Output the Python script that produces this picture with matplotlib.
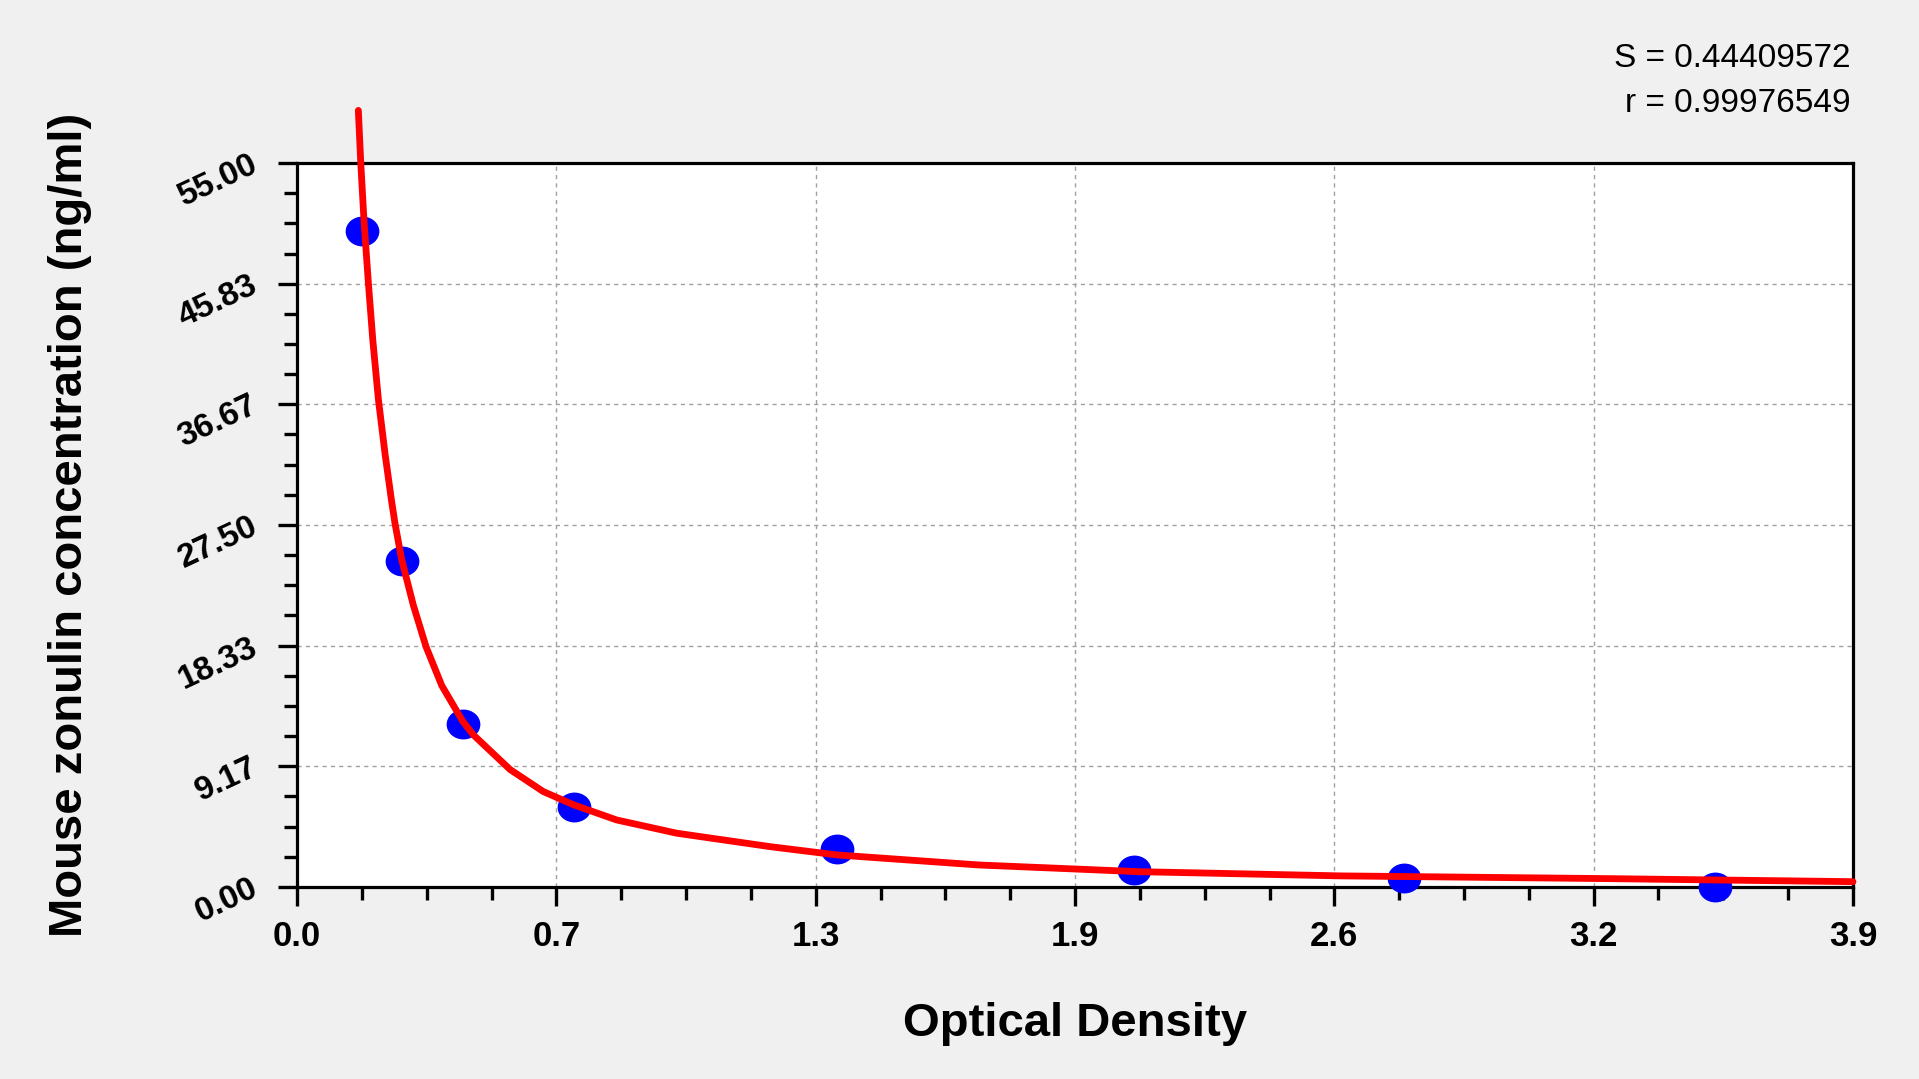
import matplotlib
matplotlib.use('Agg')
import matplotlib.pyplot as plt
from matplotlib.markers import MarkerStyle
from matplotlib.transforms import Affine2D
from matplotlib.ticker import MultipleLocator, FixedLocator

plt.rcParams['font.family'] = ['Liberation Sans', 'DejaVu Sans']

# standard points (optical density vs concentration)
od_points = [0.162, 0.262, 0.415, 0.694, 1.354, 2.098, 2.775, 3.553]
conc_points = [49.8, 24.8, 12.4, 6.05, 2.9, 1.3, 0.7, 0.0]

# fitted curve
curve_od = [0.1536, 0.1597, 0.168, 0.179, 0.190, 0.204, 0.221, 0.237, 0.2456, 0.262,
            0.2915, 0.3233, 0.3627, 0.415, 0.442, 0.534, 0.617, 0.694, 0.801, 0.952,
            1.186, 1.354, 1.708, 2.109, 2.615, 3.29, 3.9]
curve_conc = [59.0, 55.0, 50.5, 45.8, 41.5, 37.0, 32.8, 29.3, 27.6, 24.9,
              21.4, 18.25, 15.3, 12.6, 11.55, 8.92, 7.25, 6.23, 5.09, 4.08,
              3.06, 2.43, 1.67, 1.16, 0.84, 0.63, 0.40]

x_ticks = [0.0, 0.65, 1.3, 1.95, 2.6, 3.25, 3.9]
x_labels = ['0.0', '0.7', '1.3', '1.9', '2.6', '3.2', '3.9']
y_ticks = [0.0, 55 / 6, 110 / 6, 27.5, 220 / 6, 275 / 6, 55.0]
y_labels = ['0.00', '9.17', '18.33', '27.50', '36.67', '45.83', '55.00']

stats = ['S = 0.44409572', 'r = 0.99976549']

fig = plt.figure(figsize=(19.19, 10.79), dpi=100, facecolor='#f0f0f0')
ax = fig.add_axes([0.1548, 0.178, 0.8108, 0.6709])
ax.set_facecolor('white')

ax.set_xlim(0, 3.9)
ax.set_ylim(0, 55)

ax.xaxis.set_major_locator(FixedLocator(x_ticks))
ax.xaxis.set_minor_locator(MultipleLocator(0.1625))
ax.yaxis.set_major_locator(FixedLocator(y_ticks))
ax.yaxis.set_minor_locator(MultipleLocator(55 / 24))

ax.grid(True, which='major', color='#a0a0a0', linestyle=(0, (3, 3)), linewidth=1.0)
ax.set_axisbelow(True)

for s in ax.spines.values():
    s.set_linewidth(2.3)
    s.set_color('black')

ax.tick_params(which='major', direction='out', length=13.7, width=2.4, color='black')
ax.tick_params(which='minor', direction='out', length=9.4, width=2.4, color='black')
ax.tick_params(axis='x', which='major', pad=10)
ax.tick_params(axis='y', which='major', pad=16)

ax.set_xticklabels(x_labels, fontsize=25, fontweight='bold')
ax.set_yticklabels(y_labels, fontsize=24, fontweight='bold', rotation=25,
                   rotation_mode='anchor', ha='right', va='center')

marker = MarkerStyle('o', transform=Affine2D().scale(1.13, 1.0))
ax.plot(od_points, conc_points, linestyle='none', marker=marker, markersize=21.5,
        color='#0000ff', markeredgewidth=0, zorder=3, clip_on=False)
ax.plot(curve_od, curve_conc, color='#ff0000', linewidth=4.9, zorder=4,
        clip_on=False, solid_capstyle='round', solid_joinstyle='round')

ax.set_xlabel('Optical Density', fontsize=34, fontweight='bold', va='center')
ax.xaxis.set_label_coords(0.5, -0.19)
ax.set_ylabel('Mouse zonulin concentration (ng/ml)', fontsize=34,
              fontweight='bold', va='center')
ax.yaxis.set_label_coords(-0.146, 0.5)

fig.text(0.9645, 0.946, stats[0], fontsize=24, ha='right', va='center')
fig.text(0.9645, 0.904, stats[1], fontsize=24, ha='right', va='center')

fig.savefig('out.png', dpi=100, facecolor=fig.get_facecolor())
